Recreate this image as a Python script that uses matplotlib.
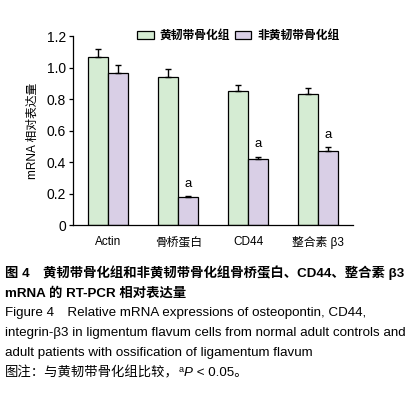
import numpy as np
import matplotlib
matplotlib.use("Agg")
import matplotlib.pyplot as plt

plt.rcParams['font.family'] = ['Liberation Sans', 'Noto Sans CJK SC', 'DejaVu Sans']

genes = ['Actin', '骨桥蛋白', 'CD44', '整合素 β3']
series_names = ['黄韧带骨化组', '非黄韧带骨化组']
ossified = [1.07, 0.94, 0.85, 0.83]
ossified_err = [0.05, 0.05, 0.04, 0.04]
normal = [0.965, 0.176, 0.417, 0.468]
normal_err = [0.05, 0.008, 0.017, 0.027]
sig = ['', 'a', 'a', 'a']

green = '#d5ecd3'
purple = '#d9cfe6'

fig = plt.figure(figsize=(4.13, 3.97), dpi=100)
ax = fig.add_axes([0.177, 0.433, 0.678, 0.476])

x = np.arange(len(genes))
w = 0.286
ek = dict(elinewidth=1.0, capsize=2.5, capthick=1.0, ecolor='black')
ax.bar(x - w / 2, ossified, w, color=green, edgecolor='black', linewidth=0.9,
       yerr=[np.zeros(4), ossified_err], error_kw=ek, label=series_names[0])
ax.bar(x + w / 2, normal, w, color=purple, edgecolor='black', linewidth=0.9,
       yerr=[np.zeros(4), normal_err], error_kw=ek, label=series_names[1])

for xi, v, e, s in zip(x, normal, normal_err, sig):
    if s:
        ax.text(xi + w / 2, v + e + 0.04, s, ha='center', va='bottom', fontsize=9.5)

ax.set_xlim(-0.5, 3.5)
ax.set_ylim(0, 1.2)
ax.set_yticks([0, 0.2, 0.4, 0.6, 0.8, 1.0, 1.2])
ax.set_yticklabels(['0', '0.2', '0.4', '0.6', '0.8', '1.0', '1.2'], fontsize=10)
ax.set_xticks(x)
ax.set_xticklabels(genes, fontsize=8.5)
ax.tick_params(axis='x', length=0, pad=8)
ax.tick_params(axis='y', length=3, width=0.9, pad=2)
ax.spines['top'].set_visible(False)
ax.spines['right'].set_visible(False)
ax.spines['left'].set_linewidth(0.9)
ax.spines['bottom'].set_linewidth(0.9)
ax.set_ylabel('mRNA 相对表达量', fontsize=8.5, labelpad=6)

leg = ax.legend(ncol=2, loc='center', bbox_to_anchor=(0.59, 1.0), frameon=False,
                fontsize=8.5, handlelength=1.4, handleheight=0.6, columnspacing=0.4,
                handletextpad=0.5, borderaxespad=0)
for t in leg.get_texts():
    t.set_fontweight('bold')

lines = [
    '图 4　黄韧带骨化组和非黄韧带骨化组骨桥蛋白、CD44、整合素 β3',
    'mRNA 的 RT-PCR 相对表达量',
    'Figure 4　Relative mRNA expressions of osteopontin, CD44,',
    'integrin-β3 in ligmentum flavum cells from normal adult controls and',
    'adult patients with ossification of ligamentum flavum',
]
weights = ['bold', 'bold', 'normal', 'normal', 'normal']
y0 = 273
fs = 9.6
for i, (s, wt) in enumerate(zip(lines, weights)):
    fig.text(5 / 413, 1 - (y0 + i * 20) / 397, s, fontsize=fs, fontweight=wt,
             ha='left', va='center')

# note line, drawn piece by piece (superscript a, italic P)
note_y = 1 - (y0 + 5 * 20) / 397
renderer = fig.canvas.get_renderer()
t = fig.text(5 / 413, note_y, '图注：与黄韧带骨化组比较，', fontsize=fs, ha='left', va='center')
pieces = [('a', dict(fontsize=6.5), 4), ('P', dict(fontsize=fs, style='italic'), 0),
          (' < 0.05。', dict(fontsize=fs), 0)]
for s, kw, dy in pieces:
    bb = t.get_window_extent(renderer)
    t = fig.text(bb.x1 / fig.bbox.width, note_y + dy / fig.bbox.height, s,
                 ha='left', va='center', **kw)

fig.savefig('out.png', dpi=100)
